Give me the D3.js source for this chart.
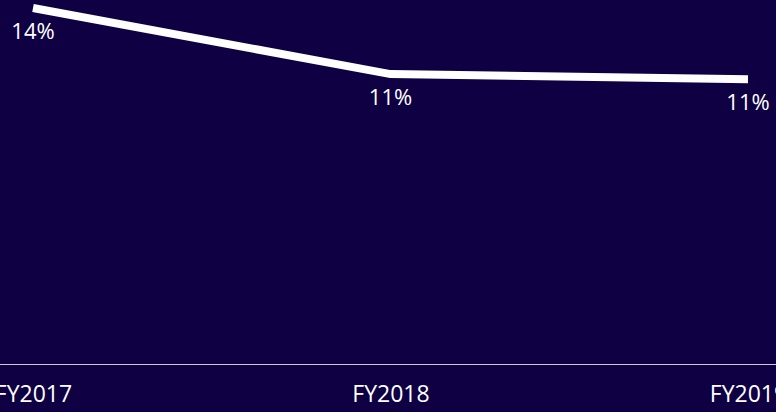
<!DOCTYPE html>
<html>
<head>
<meta charset="utf-8">
<script src="https://cdn.jsdelivr.net/npm/d3@7"></script>
<style>
  html, body { margin: 0; padding: 0; background: #0e0042; overflow: hidden; }
  text { font-family: "Open Sans", sans-serif; fill: #ffffff; }
</style>
</head>
<body>
<div id="chart"></div>
<script>
// chart data
const years = ["FY2017", "FY2018", "FY2019"];
const rates = [0.140, 0.114, 0.112];

const width = 776, height = 412;
const baseY = 364;

var svg = d3.select("#chart")
    .append("svg")
        .attr("width", width)
        .attr("height", height);

svg.append("rect")
    .attr("width", width)
    .attr("height", height)
    .attr("fill", "#0e0042");

// scales
var x = d3.scalePoint()
    .domain(years)
    .range([33, 748]);

var y = d3.scaleLinear()
    .domain([0, 0.14])
    .range([baseY, 8]);

// baseline
svg.append("line")
    .attr("x1", 0)
    .attr("x2", width)
    .attr("y1", baseY + 0.5)
    .attr("y2", baseY + 0.5)
    .attr("stroke", "#c9c9d0")
    .attr("stroke-width", 1);

// x axis labels
var xAxis = svg.append("g")
    .attr("transform", "translate(0," + baseY + ")")
    .call(d3.axisBottom(x).tickSize(0).tickPadding(22));
xAxis.select(".domain").remove();
xAxis.selectAll("text")
    .style("font-size", "23px")
    .attr("dy", "0.71em")
    .attr("fill", "#ffffff");

const data = years.map((d, i) => ({year: d, value: rates[i]}));

// line
svg.append("path")
    .datum(data)
    .attr("fill", "none")
    .attr("stroke", "#ffffff")
    .attr("stroke-width", 8)
    .attr("stroke-linejoin", "miter")
    .attr("d", d3.line()
        .x(d => x(d.year))
        .y(d => y(d.value)));

// value labels
const fmt = d3.format(".0%");
svg.selectAll(".val")
    .data(data)
    .join("text")
    .attr("class", "val")
    .attr("x", d => x(d.year))
    .attr("y", d => y(d.value) + 31)
    .attr("text-anchor", "middle")
    .style("font-size", "22px")
    .text(d => fmt(d.value));
</script>
</body>
</html>
